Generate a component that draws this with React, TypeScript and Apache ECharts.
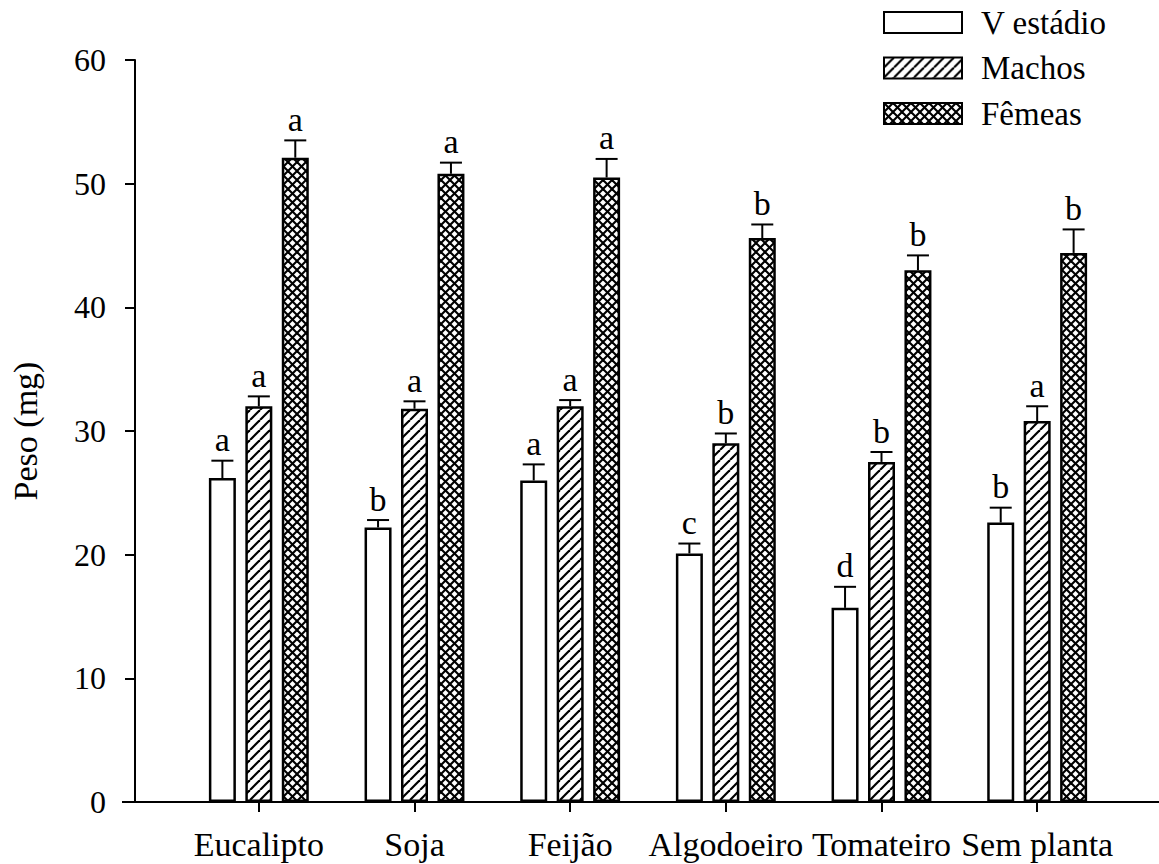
import React, { useEffect, useRef } from 'react';
import * as echarts from 'echarts';

const categories = ['Eucalipto', 'Soja', 'Feijão', 'Algodoeiro', 'Tomateiro', 'Sem planta'];
const seriesNames = ['V estádio', 'Machos', 'Fêmeas'];

const vEstadio = [26.2, 22.2, 26.0, 20.1, 15.7, 22.6];
const vEstadioErrTop = [27.6, 22.8, 27.3, 20.9, 17.4, 23.8];
const vEstadioLetters = ['a', 'b', 'a', 'c', 'd', 'b'];

const machos = [32.0, 31.8, 32.0, 29.0, 27.5, 30.8];
const machosErrTop = [32.8, 32.4, 32.5, 29.8, 28.3, 32.0];
const machosLetters = ['a', 'a', 'a', 'b', 'b', 'a'];

const femeas = [52.1, 50.8, 50.5, 45.6, 43.0, 44.4];
const femeasErrTop = [53.5, 51.7, 52.0, 46.7, 44.2, 46.3];
const femeasLetters = ['a', 'a', 'a', 'b', 'b', 'b'];

const yTicks = { min: 0, max: 60, interval: 10 };

const FONT = 'Liberation Serif';
const BAR_W = 27;
const BAR_GAP = 0.35;

function makeHatch(period: number, lw: number, cross: boolean) {
  const c = document.createElement('canvas');
  c.width = period;
  c.height = period;
  const ctx = c.getContext('2d')!;
  ctx.fillStyle = '#fff';
  ctx.fillRect(0, 0, period, period);
  ctx.strokeStyle = '#000';
  ctx.lineWidth = lw;
  for (let k = -1; k <= 1; k++) {
    ctx.beginPath();
    ctx.moveTo(k * period, period);
    ctx.lineTo(k * period + period, 0);
    ctx.stroke();
    if (cross) {
      ctx.beginPath();
      ctx.moveTo(k * period, 0);
      ctx.lineTo(k * period + period, period);
      ctx.stroke();
    }
  }
  return { image: c, repeat: 'repeat', imageWidth: period, imageHeight: period };
}

export default function App() {
  const ref = useRef<HTMLDivElement>(null);
  useEffect(() => {
    document.body.style.margin = '0';
    const chart = echarts.init(ref.current!, null, { renderer: 'svg' });

    const fills: any[] = ['#fff', makeHatch(10, 2.2, false), makeHatch(9, 2.1, true)];
    const values = [vEstadio, machos, femeas];
    const errs = [vEstadioErrTop, machosErrTop, femeasErrTop];
    const letters = [vEstadioLetters, machosLetters, femeasLetters];

    const barSeries = seriesNames.map((name, s) => ({
      name,
      type: 'bar',
      data: values[s],
      barWidth: BAR_W,
      barGap: BAR_GAP * 100 + '%',
      itemStyle: { color: fills[s], borderColor: '#000', borderWidth: 2.5 },
      z: 2,
    }));

    const errSeries = seriesNames.map((name, s) => ({
      name: name + ' err',
      type: 'custom',
      coordinateSystem: 'cartesian2d',
      data: values[s].map((v, i) => [i, v, errs[s][i]]),
      encode: { x: 0, y: [1, 2] },
      z: 5,
      silent: true,
      renderItem: (params: any, api: any) => {
        const i = api.value(0);
        const base = api.coord([i, api.value(1)]);
        const top = api.coord([i, api.value(2)]);
        const off = (s - 1) * (BAR_W + BAR_W * BAR_GAP);
        const x = base[0] + off;
        const cap = 11;
        return {
          type: 'group',
          children: [
            { type: 'line', shape: { x1: x, y1: base[1], x2: x, y2: top[1] }, style: { stroke: '#000', lineWidth: 2 } },
            { type: 'line', shape: { x1: x - cap, y1: top[1], x2: x + cap, y2: top[1] }, style: { stroke: '#000', lineWidth: 2 } },
            {
              type: 'text',
              x,
              y: top[1] - 4,
              style: {
                text: letters[s][params.dataIndex],
                fill: '#000',
                fontFamily: FONT,
                fontSize: 34,
                textAlign: 'center',
                textVerticalAlign: 'bottom',
              },
            },
          ],
        };
      },
    }));

    chart.setOption({
      animation: false,
      backgroundColor: '#fff',
      textStyle: { fontFamily: FONT, color: '#000' },
      grid: { left: 179, right: 44, top: 60, bottom: 62, containLabel: false },
      legend: {
        data: seriesNames,
        orient: 'vertical',
        left: 883,
        top: 6,
        padding: 0,
        itemWidth: 78,
        itemHeight: 21,
        itemGap: 12.5,
        selectedMode: false,
        icon: 'rect',
        textStyle: { fontFamily: FONT, fontSize: 33, color: '#000', lineHeight: 32, padding: [0, 0, 0, 14] },
      },
      xAxis: {
        type: 'category',
        data: categories,
        axisLine: { show: false },
        axisTick: { show: true, alignWithLabel: true, length: 10, lineStyle: { color: '#000', width: 2 } },
        axisLabel: { fontFamily: FONT, fontSize: 34, color: '#000', margin: 25, interval: 0 },
      },
      yAxis: {
        type: 'value',
        min: yTicks.min,
        max: yTicks.max,
        interval: yTicks.interval,
        offset: 46,
        name: 'Peso (mg)',
        nameLocation: 'middle',
        nameRotate: 90,
        nameGap: 93,
        nameTextStyle: { fontFamily: FONT, fontSize: 34, color: '#000' },
        axisLine: { show: true, lineStyle: { color: '#000', width: 2 } },
        axisTick: { show: true, inside: false, length: 10, lineStyle: { color: '#000', width: 2 } },
        axisLabel: { fontFamily: FONT, fontSize: 32, color: '#000', margin: 29 },
        splitLine: { show: false },
      },
      graphic: [
        { type: 'line', shape: { x1: 122, y1: 802, x2: 1159, y2: 802 }, style: { stroke: '#000', lineWidth: 2 }, z: 10 },
      ],
      series: [...barSeries, ...errSeries],
    });
    return () => chart.dispose();
  }, []);
  return <div ref={ref} style={{ width: 1159, height: 864 }} />;
}
